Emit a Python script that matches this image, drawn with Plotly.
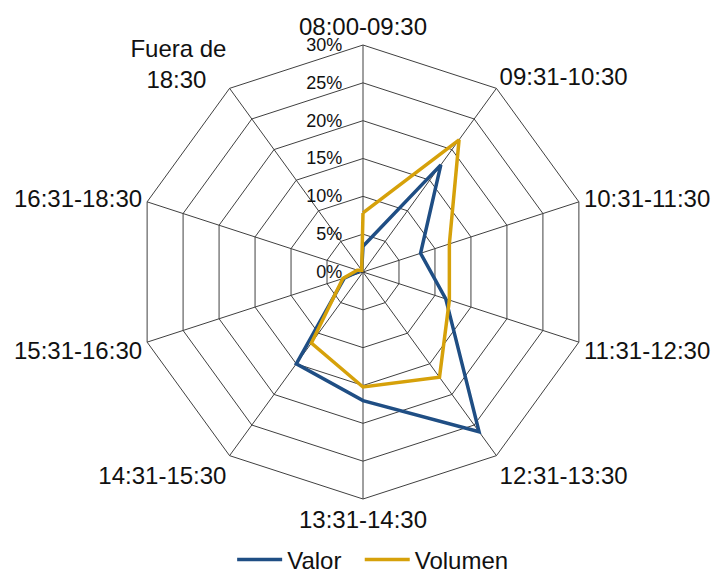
import plotly.graph_objects as go

# franjas horarias (sentido horario desde arriba)
categories = [
    "08:00-09:30", "09:31-10:30", "10:31-11:30", "11:31-12:30", "12:31-13:30",
    "13:31-14:30", "14:31-15:30", "15:31-16:30", "16:31-18:30", "Fuera de<br>18:30\u00a0\u00a0\u00a0",
]
valor = [0.034, 0.175, 0.080, 0.115, 0.261, 0.170, 0.150, 0.026, 0.005, 0.003]
volumen = [0.078, 0.216, 0.120, 0.120, 0.172, 0.152, 0.116, 0.028, 0.008, 0.003]
radial_ticks = [0, 0.05, 0.10, 0.15, 0.20, 0.25, 0.30]

BLUE = "#1F4E84"
GOLD = "#D6A10A"
GRID = "#404040"
FONT = "Liberation Sans, Arial, sans-serif"

# la página añade 8px de margen al body: figura algo más pequeña
W, H = 715, 566
CX, CY, R = 355, 264, 227


def closed(vals):
    return list(vals) + [vals[0]]


fig = go.Figure()
fig.add_trace(go.Scatterpolar(
    r=closed(valor), theta=closed(categories), mode="lines",
    line=dict(color=BLUE, width=3.5), name="Valor\u00a0\u00a0",
))
fig.add_trace(go.Scatterpolar(
    r=closed(volumen), theta=closed(categories), mode="lines",
    line=dict(color=GOLD, width=3.5), name="Volumen",
))

fig.update_layout(
    width=W, height=H,
    margin=dict(l=0, r=0, t=0, b=0, autoexpand=False),
    paper_bgcolor="white",
    font=dict(family=FONT, size=24, color="#111111"),
    polar=dict(
        domain=dict(x=[(CX - R) / W, (CX + R) / W],
                    y=[(H - CY - R) / H, (H - CY + R) / H]),
        bgcolor="white",
        gridshape="linear",
        angularaxis=dict(
            rotation=90, direction="clockwise",
            categoryorder="array", categoryarray=categories,
            showline=True, linecolor=GRID, linewidth=1,
            showgrid=True, gridcolor=GRID, gridwidth=1,
            ticks="", tickfont=dict(size=24),
        ),
        radialaxis=dict(
            range=[0, 0.30], tickvals=radial_ticks, tickformat=".0%",
            angle=90, side="counterclockwise", tickangle=90,
            showline=False, showgrid=True, gridcolor=GRID, gridwidth=1,
            ticks="outside", ticklen=14, tickcolor="rgba(0,0,0,0)",
            tickfont=dict(size=18),
        ),
    ),
    legend=dict(
        orientation="h", x=0.51, xanchor="center", y=-0.015, yanchor="bottom",
        font=dict(size=24), itemwidth=45,
    ),
)

fig.write_html("out.html")
